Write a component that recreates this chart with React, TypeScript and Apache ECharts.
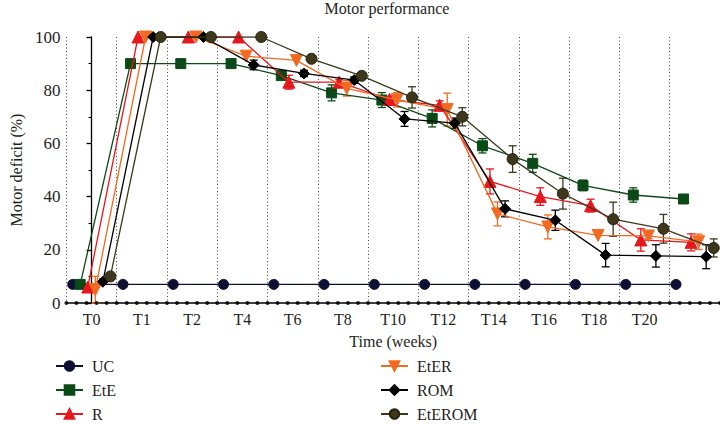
import React, { useEffect, useRef } from "react";
import * as echarts from "echarts";

const categories = ["T0", "T1", "T2", "T4", "T6", "T8", "T10", "T12", "T14", "T16", "T18", "T20", ""];

const seriesNames = ["UC", "EtE", "R", "EtER", "ROM", "EtEROM"];

const ucValues = [7, 7, 7, 7, 7, 7, 7, 7, 7, 7, 7, 7, 7];
const ucErrors = [0, 0, 0, 0, 0, 0, 0, 0, 0, 0, 0, 0, 0];

const eteValues = [7, 90, 90, 90, 85.5, 79, 76.3, 69.4, 59.1, 52.5, 44.2, 40.6, 39.1];
const eteErrors = [0, 0, 0, 0, 1, 3, 2.8, 3.2, 2.7, 3.4, 2, 2.7, 0];

const rValues = [6, 100, 100, 100, 83, 83, 76.5, 74.3, 45.7, 40, 36.6, 23.7, 22.8];
const rErrors = [0, 0, 0, 0, 2.6, 1, 1, 1.7, 4.7, 3.3, 2.4, 4.2, 3.2];

const eterValues = [5, 100, 100, 92.8, 91.2, 80.7, 76.4, 72.7, 33.5, 28.6, 25.4, 25.2, 23];
const eterErrors = [5, 0, 0, 0, 0, 2.9, 2.7, 6.2, 4.5, 4.5, 0, 1, 2.9];

const romValues = [8, 100, 100, 89.5, 86.3, 83.8, 69.2, 67.6, 35.4, 31.1, 18, 17.7, 17.4];
const romErrors = [1, 0, 0, 1.8, 1.2, 1.2, 2.8, 1.9, 3, 3.8, 4.4, 4.2, 4.5];

const eteromValues = [10, 100, 100, 100, 91.8, 85.4, 77.3, 70, 54.1, 41.1, 31.5, 27.9, 20.7];
const eteromErrors = [1, 0, 0, 0, 0, 0, 4, 3.4, 5, 5.8, 6.4, 5.4, 3.4];

const yTicks = [0, 20, 40, 60, 80, 100];

const FONT = "Liberation Serif";
const TEXT = "#231f20";

const styles = [
  { color: "#0d1033", symbol: "circle", size: 10, rotate: 0, border: "#0d1033" },
  { color: "#0b4a17", symbol: "rect", size: 10, rotate: 0, border: "#0b4a17" },
  { color: "#e8161d", symbol: "triangle", size: 12, rotate: 0, border: "#e8161d" },
  { color: "#f26a21", symbol: "triangle", size: 12, rotate: 180, border: "#f26a21" },
  { color: "#000000", symbol: "diamond", size: 11, rotate: 0, border: "#000000" },
  { color: "#3d381c", symbol: "circle", size: 11, rotate: 0, border: "#25220f" },
];
const offsets = [-0.375, -0.225, -0.075, 0.075, 0.225, 0.375];

export default function App() {
  const ref = useRef<HTMLDivElement>(null);
  useEffect(() => {
    if (!ref.current) return;
    const chart = echarts.init(ref.current, null, { renderer: "svg" });
    const allValues = [ucValues, eteValues, rValues, eterValues, romValues, eteromValues];
    const allErrors = [ucErrors, eteErrors, rErrors, eterErrors, romErrors, eteromErrors];

    const lineSeries: any[] = [];
    const errSeries: any[] = [];
    seriesNames.forEach((name, s) => {
      const st = styles[s];
      const vals = allValues[s];
      const errs = allErrors[s];
      errSeries.push({
        type: "custom",
        name: name + "-err",
        xAxisIndex: 0,
        yAxisIndex: 0,
        z: 2,
        silent: true,
        encode: { x: 0, y: [1, 2] },
        data: vals
          .map((v, i) => [i + offsets[s], v - errs[i], v + errs[i]])
          .filter((_, i) => errs[i] > 0),
        renderItem: (params: any, api: any) => {
          const x = api.value(0);
          const lo = api.coord([x, api.value(1)]);
          const hi = api.coord([x, api.value(2)]);
          const hw = 4;
          const style = { stroke: st.color, lineWidth: 1.3 };
          return {
            type: "group",
            children: [
              { type: "line", shape: { x1: lo[0], y1: lo[1], x2: hi[0], y2: hi[1] }, style },
              { type: "line", shape: { x1: lo[0] - hw, y1: lo[1], x2: lo[0] + hw, y2: lo[1] }, style },
              { type: "line", shape: { x1: hi[0] - hw, y1: hi[1], x2: hi[0] + hw, y2: hi[1] }, style },
            ],
          };
        },
      });
      lineSeries.push({
        type: "line",
        name,
        xAxisIndex: 0,
        yAxisIndex: 0,
        z: 3 + s,
        data: vals.map((v, i) => [i + offsets[s], v]),
        symbol: st.symbol,
        symbolSize: st.size,
        symbolRotate: st.rotate,
        showSymbol: true,
        itemStyle: { color: st.color, borderColor: st.border, borderWidth: 1 },
        lineStyle: { color: st.color, width: 1.3 },
        emphasis: { disabled: true },
      });
    });

    const dotPositions: number[][] = [];
    for (let k = 0; k <= categories.length * 5; k++) {
      dotPositions.push([-0.5 + k * 0.2, 0]);
    }

    const legendCommon = {
      type: "plain" as const,
      orient: "vertical" as const,
      top: 358,
      height: 120,
      itemWidth: 27,
      itemHeight: 12,
      itemGap: 8,
      padding: 0,
      textStyle: { fontFamily: FONT, fontSize: 16, color: TEXT, padding: [0, 0, 0, 4] },
    };

    chart.setOption({
      animation: false,
      backgroundColor: "#ffffff",
      textStyle: { fontFamily: FONT, color: TEXT },
      title: {
        text: "Motor performance",
        left: 387,
        textAlign: "center",
        top: 0,
        padding: 0,
        textStyle: { fontFamily: FONT, fontSize: 16, fontWeight: "normal", color: TEXT },
      },
      legend: [
        { ...legendCommon, left: 55, data: seriesNames.slice(0, 3) },
        { ...legendCommon, left: 380, data: seriesNames.slice(3) },
      ],
      grid: { left: 55, right: 0, top: 37, bottom: 122, containLabel: false },
      xAxis: [
        {
          type: "value",
          min: -0.5,
          max: categories.length - 0.5,
          interval: 1,
          axisLine: { show: true, onZero: false, lineStyle: { color: "#000", width: 1.5 } },
          axisTick: { show: false },
          axisLabel: { show: false },
          splitLine: { show: true, lineStyle: { color: "#444", type: [1, 2.5], width: 1 } },
        },
        {
          type: "category",
          data: categories,
          boundaryGap: true,
          position: "bottom",
          axisLine: { show: false },
          axisTick: { show: false },
          splitLine: { show: false },
          axisLabel: { fontFamily: FONT, fontSize: 16, color: TEXT, margin: 8, interval: 0 },
          name: "Time (weeks)",
          nameLocation: "middle",
          nameGap: 30,
          nameTextStyle: { fontFamily: FONT, fontSize: 16, color: TEXT },
        },
      ],
      yAxis: {
        type: "value",
        min: yTicks[0],
        max: yTicks[yTicks.length - 1],
        interval: 20,
        axisLine: { show: true, lineStyle: { color: "#000", width: 1.3 } },
        axisTick: { show: true, length: 5, lineStyle: { color: "#000", width: 1.3 } },
        minorTick: { show: true, splitNumber: 2, length: 3, lineStyle: { color: "#000", width: 1.1 } },
        splitLine: { show: false },
        axisLabel: {
          fontFamily: FONT,
          fontSize: 17,
          color: TEXT,
          margin: 6,
        },
        name: "Motor deficit (%)",
        nameLocation: "middle",
        nameGap: 36,
        nameTextStyle: { fontFamily: FONT, fontSize: 16, color: TEXT },
      },
      series: [
        {
          type: "scatter",
          name: "_axisdots",
          xAxisIndex: 0,
          yAxisIndex: 0,
          silent: true,
          z: 10,
          symbol: "circle",
          symbolSize: 4,
          itemStyle: { color: "#000" },
          data: dotPositions,
        },
        ...errSeries,
        ...lineSeries,
      ],
    });
    return () => chart.dispose();
  }, []);
  return (
    <div
      ref={ref}
      style={{ position: "fixed", left: 0, top: 0, width: 720, height: 425, background: "#fff" }}
    />
  );
}
